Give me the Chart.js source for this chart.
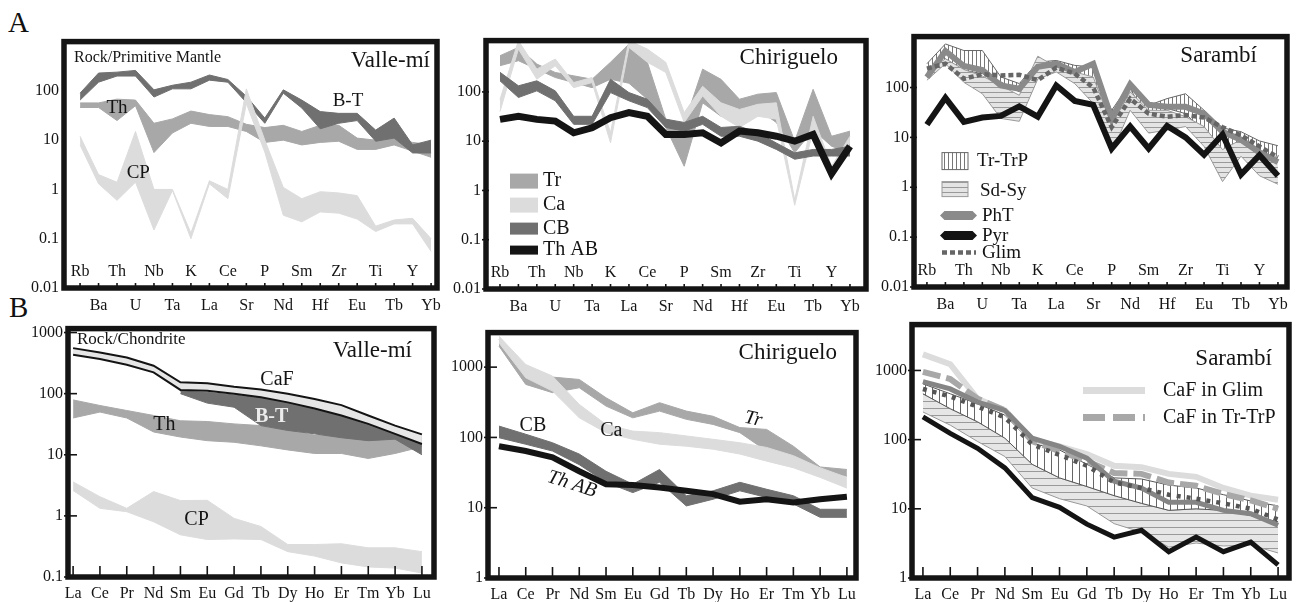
<!DOCTYPE html>
<html>
<head>
<meta charset="utf-8">
<script src="https://cdn.jsdelivr.net/npm/chart.js@4"></script>
<style>
  body { margin: 0; background: #fff; width: 1296px; height: 602px; position: relative; overflow: hidden; font-family: "Liberation Serif", serif; }
  .panel { position: absolute; }
  .letter { position: absolute; font-size: 29px; color: #111; line-height: 1; }
</style>
</head>
<body>
<div class="letter" style="left:8px;top:8px">A</div>
<div class="letter" style="left:9px;top:293px">B</div>
<div class="panel" id="a1"><canvas></canvas></div>
<div class="panel" id="a2"><canvas></canvas></div>
<div class="panel" id="a3"><canvas></canvas></div>
<div class="panel" id="b1"><canvas></canvas></div>
<div class="panel" id="b2"><canvas></canvas></div>
<div class="panel" id="b3"><canvas></canvas></div>
<script>
// categories and tick labels
const SPIDER = ["Rb","Ba","Th","U","Nb","Ta","K","La","Ce","Sr","P","Nd","Sm","Hf","Zr","Eu","Ti","Tb","Y","Yb"];
const REE = ["La","Ce","Pr","Nd","Sm","Eu","Gd","Tb","Dy","Ho","Er","Tm","Yb","Lu"];
const SPIDER_TICKS = [0.01, 0.1, 1, 10, 100];
const VM_REE_TICKS = [0.1, 1, 10, 100, 1000];
const REE_TICKS = [1, 10, 100, 1000];

// A - Valle-mi (rock / primitive mantle)
const vmBtHi = [90, 230, 240, 260, 105, 130, 150, 210, 170, 78, 28, 105, 65, 38, 35, 35, 16, 28, 8, 10];
const vmBtLo = [65, 150, 200, 200, 75, 110, 110, 165, 150, 58, 22, 90, 45, 17, 22, 25, 9.5, 11, 5.5, 5.5];
const vmThHi = [57, 57, 68, 65, 22, 27, 39, 33, 30, 21, 18, 20, 15, 20, 20, 11, 10, 11, 9, 8];
const vmThLo = [46, 46, 25, 50, 5.6, 14, 22, 19, 19, 15, 9, 10, 8, 9, 9.5, 6.5, 6.5, 8, 6, 4.5];
const vmCpHi = [12, 2, 1.4, 15, 1.0, 1.0, 0.13, 1.5, 1.0, 110, 10, 1.1, 0.65, 0.9, 0.85, 0.75, 0.18, 0.24, 0.26, 0.1];
const vmCpLo = [8, 1.3, 0.6, 1.4, 0.15, 0.95, 0.1, 1.3, 0.65, 55, 5.7, 0.3, 0.22, 0.35, 0.33, 0.25, 0.14, 0.2, 0.2, 0.055];

// A - Chiriguelo
const chTrHi = [543, 800, 367, 248, 212, 181, 400, 935, 400, 28, 22, 290, 180, 71, 90, 97, 10, 113, 12.6, 16];
const chTrLo = [340, 430, 290, 196, 155, 122, 181, 150, 71, 19, 3.1, 60, 32, 41, 44, 24, 5.8, 17, 7.9, 5.8];
const chCaHi = [70, 1100, 290, 465, 155, 196, 15, 1100, 740, 400, 38, 130, 60, 44, 56, 60, 0.65, 32, 3.1, 12.6];
const chCaLo = [40, 740, 181, 340, 122, 155, 9.3, 800, 400, 248, 24, 83, 32, 19, 32, 28, 0.5, 17, 2.7, 9.2];
const chCbHi = [250, 133, 168, 105, 32, 32, 181, 97, 71, 28, 24, 32, 19, 20, 15, 9.2, 5.8, 6.8, 6.8, 7.9];
const chCbLo = [168, 77, 105, 66, 22, 22, 97, 66, 48, 19, 16, 22, 12.6, 12.6, 10, 6.8, 4.3, 5, 5, 5];
const chThAb = [27.7, 32, 27.7, 25.6, 14.8, 18.7, 30, 38, 32, 13.7, 13.7, 14.8, 9.2, 16, 14.8, 12.6, 10, 13.7, 2.2, 7.9];

// A - Sarambi
const saTrpHi = [300, 748, 552, 552, 163, 120, 323, 349, 278, 257, 35, 120, 44, 60, 75, 35, 15.5, 13, 8.5, 6.8];
const saTrpLo = [163, 377, 221, 190, 130, 82, 176, 238, 151, 130, 12, 95, 22, 38, 30, 13, 3.1, 6.6, 3.6, 3.1];
const saSdHi = [205, 377, 230, 170, 109, 70, 425, 257, 205, 163, 17.9, 82, 35, 35, 26, 16.5, 5.7, 9, 4.2, 4.2];
const saSdLo = [140, 300, 127, 75, 24, 21, 148, 205, 120, 48, 4.9, 35, 12.2, 14, 16.5, 6.6, 1.3, 4.2, 1.7, 1.15];
const saPht = [160, 540, 270, 225, 110, 95, 260, 300, 205, 300, 24, 115, 45, 41, 41, 30, 13, 9, 5, 3.2];
const saPyr = [18, 62, 20.5, 25, 27, 42, 26, 110, 54, 45, 6, 16.6, 6, 17, 10, 4.5, 11.4, 1.8, 4.4, 1.7];
const saGlim = [240, 300, 150, 185, 175, 180, 140, 250, 190, 100, 16, 60, 30, 26, 28, 25, 16, 11, 6.6, 4];

// B - Valle-mi (rock / chondrite)
const vrCafHi = [556, 472, 391, 286, 153, 148, 130, 117, 100, 82, 65, 44, 30, 21.6];
const vrCafLo = [433, 368, 298, 223, 115, 112, 100, 87, 72, 57, 44, 32, 22, 15];
const vrBtHi = [null, null, null, null, 110, 105, 95, 85, 70, 55, 43, 31, 22, 15];
const vrBtLo = [null, null, null, null, 100, 70, 60, 30, 25, 22, 19, 17, 18, 10];
const vrThHi = [79, 64, 53, 44, 36, 35, 32, 30, 25, 21, 21, 19.5, 23, 19.5];
const vrThLo = [40, 50, 40, 23.6, 19.5, 17, 16, 14, 12, 10.5, 10.5, 8.7, 10.5, 13.5];
const vrCpHi = [3.6, 2.06, 1.33, 2.5, 1.78, 1.8, 0.91, 0.67, 0.34, 0.34, 0.35, 0.30, 0.30, 0.26];
const vrCpLo = [2.6, 1.33, 1.17, 0.8, 0.49, 0.41, 0.42, 0.41, 0.26, 0.22, 0.17, 0.146, 0.14, 0.116];

// B - Chiriguelo
const crTrHi = [2470, 787, 721, 668, 367, 224, 312, 237, 200, 138, 130, 75, 38, 35];
const crTrLo = [1990, 568, 433, 509, 279, 190, 237, 181, 153, 117, 64, 41, 33, 28];
const crCaHi = [2760, 1090, 745, 295, 153, 123, 117, 105, 94, 84, 72, 55, 37, 27];
const crCaLo = [2210, 705, 456, 190, 117, 94, 80, 75, 68, 58, 46, 37, 27, 19];
const crCbHi = [145, 111, 84, 58, 33, 21.6, 35, 14.8, 17.4, 23, 18.3, 14.8, 9.5, 9.5];
const crCbLo = [99, 80, 64, 41, 23, 16.4, 23, 10.6, 13.2, 17.4, 14, 11.3, 7.3, 7.3];
const crThAb = [75, 64, 52, 33, 21.6, 21, 19.4, 17.4, 15.6, 12.2, 13.2, 11.9, 13.2, 14.3];

// B - Sarambi
const srTrpHi = [640, 460, 330, 226, 89, 71, 44, 28, 27, 22, 20, 16, 13, 11];
const srTrpLo = [460, 280, 181, 105, 44, 28, 21, 15.5, 12, 9.5, 10, 9.5, 8, 6.5];
const srSdHi = [460, 280, 181, 105, 44, 28, 21, 15.5, 12, 9.5, 10, 9.5, 8, 6.5];
const srSdLo = [251, 162, 94, 57, 20, 14, 11, 6.1, 4.6, 2.8, 3.2, 2.9, 3.0, 2.3];
const srPht = [690, 541, 349, 265, 105, 80, 54, 25, 20, 12.4, 12.4, 9.5, 8.5, 5.8];
const srPyr = [213, 123, 75, 39, 14.5, 10.5, 6.0, 3.9, 4.9, 2.4, 3.9, 2.4, 3.3, 1.55];
const srGlim = [540, 420, 300, 210, 85, 60, 42, 24, 20, 16, 14, 12, 10, 7];
const srCafGlim = [1710, 1230, 390, 265, 100, 80, 62, 42, 40, 32, 29, 20, 15.5, 13.5];
const srCafTrp = [956, 751, 390, 265, 95, 68, 49, 33, 32, 24, 21.5, 16.4, 13.2, 10];

const FONT = '"Liberation Serif", "Times New Roman", serif';
const INK = "#141414";
const DARK = "#707070", MID = "#a8a8a8", LIGHT = "#dcdcdc";
const Y_W = 50, PAD_T = 14, PAD_R = 20, X_H = 30;

function hatch(gap, lineColor, bg, vertical) {
  const c = document.createElement("canvas");
  c.width = gap; c.height = gap;
  const g = c.getContext("2d");
  g.fillStyle = bg;
  g.fillRect(0, 0, gap, gap);
  g.fillStyle = lineColor;
  if (vertical) g.fillRect(0, 0, 1, gap);
  else g.fillRect(0, 0, gap, 1);
  return g.createPattern(c, "repeat");
}

const pts = values => values.map((v, i) => ({ x: i, y: v }));

// upper edge fills down to the lower edge (next dataset)
function band(hi, lo, fill, edge, edgeW) {
  return [
    { data: pts(hi), backgroundColor: fill, borderColor: edge || fill, borderWidth: edgeW ?? 1, fill: "+1" },
    { data: pts(lo), borderColor: edge || fill, borderWidth: edgeW ?? 1, fill: false },
  ];
}

function line(values, color, width, extra) {
  return Object.assign({ data: pts(values), borderColor: color, borderWidth: width, fill: false }, extra || {});
}

function hexLine(ctx, x0, x1, y, h, color) {
  ctx.fillStyle = color;
  ctx.beginPath();
  ctx.moveTo(x0, y);
  ctx.lineTo(x0 + h / 2, y - h / 2);
  ctx.lineTo(x1 - h / 2, y - h / 2);
  ctx.lineTo(x1, y);
  ctx.lineTo(x1 - h / 2, y + h / 2);
  ctx.lineTo(x0 + h / 2, y + h / 2);
  ctx.closePath();
  ctx.fill();
}

const vHatchA = hatch(4, "#777", "#fff", true);
const hHatchA = hatch(5, "#999", "#e4e4e4", false);
const vHatchB = hatch(7, "#666", "#fff", true);
const hHatchB = hatch(7, "#999", "#e6e6e6", false);

const PANELS = [
  {
    id: "a1", frame: { l: 64, t: 41, r: 437, b: 288 }, cats: SPIDER, xr: [-0.87, 19.32],
    yr: [0.01, 1000], yt: SPIDER_TICKS, split: true, tickLen: 5, yTickLen: 0,
    datasets: [
      ...band(vmThHi, vmThLo, MID),
      ...band(vmBtHi, vmBtLo, DARK),
      ...band(vmCpHi, vmCpLo, LIGHT),
    ],
    notes: [
      { text: "Rock/Primitive Mantle", tl: [10, 16], size: 16 },
      { text: "Valle-mí", tr: [-7, 19], size: 23 },
      { text: "Th", at: [2.0, 45], size: 19 },
      { text: "B-T", at: [14.5, 63], size: 19 },
      { text: "CP", at: [3.15, 2.2], size: 19 },
    ],
  },
  {
    id: "a2", frame: { l: 486, t: 40, r: 866, b: 289 }, cats: SPIDER, xr: [-0.76, 19.87],
    yr: [0.01, 1100], yt: SPIDER_TICKS, split: true, tickLen: 5, yTickLen: 3,
    datasets: [
      ...band(chTrHi, chTrLo, MID),
      ...band(chCaHi, chCaLo, LIGHT),
      ...band(chCbHi, chCbLo, DARK),
      line(chThAb, INK, 7),
    ],
    notes: [{ text: "Chiriguelo", tr: [-28, 17], size: 23 }],
    legend(ctx, ca) {
      const items = [["Tr", MID, 133, 15], ["Ca", LIGHT, 157, 15], ["CB", DARK, 182, 12], ["Th AB", INK, 205, 9]];
      ctx.font = `20px ${FONT}`;
      ctx.textAlign = "left";
      ctx.textBaseline = "middle";
      items.forEach(([label, color, dy, h]) => {
        ctx.fillStyle = color;
        ctx.fillRect(ca.left + 24, ca.top + dy, 28, h);
        ctx.fillStyle = INK;
        ctx.fillText(label, ca.left + 57, ca.top + dy + h / 2);
      });
    },
  },
  {
    id: "a3", frame: { l: 914, t: 36, r: 1287, b: 287 }, cats: SPIDER, xr: [-0.70, 19.49],
    yr: [0.01, 1050], yt: SPIDER_TICKS, split: true, tickLen: 5, yTickLen: 3,
    datasets: [
      ...band(saTrpHi, saTrpLo, vHatchA, "#666", 1),
      ...band(saSdHi, saSdLo, hHatchA, "#999", 1),
      line(saPht, "#8a8a8a", 6),
      line(saGlim, "#666", 4.5, { borderDash: [5, 3] }),
      line(saPyr, INK, 6),
    ],
    notes: [{ text: "Sarambí", tr: [-30, 19], size: 23 }],
    legend(ctx, ca) {
      const x0 = ca.left + 28, y0 = ca.top;
      ctx.fillStyle = vHatchA;
      ctx.fillRect(x0, y0 + 116, 26, 17);
      ctx.strokeStyle = "#666"; ctx.lineWidth = 1;
      ctx.strokeRect(x0, y0 + 116, 26, 17);
      ctx.fillStyle = hHatchA;
      ctx.fillRect(x0, y0 + 145, 26, 15);
      ctx.strokeStyle = "#999";
      ctx.strokeRect(x0, y0 + 145, 26, 15);
      hexLine(ctx, x0 - 2, x0 + 35, y0 + 179, 9, "#8a8a8a");
      hexLine(ctx, x0 - 2, x0 + 35, y0 + 199, 9, INK);
      ctx.strokeStyle = "#666"; ctx.lineWidth = 4.5; ctx.setLineDash([5, 3]);
      ctx.beginPath(); ctx.moveTo(x0, y0 + 216); ctx.lineTo(x0 + 34, y0 + 216); ctx.stroke();
      ctx.setLineDash([]);
      ctx.font = `19px ${FONT}`;
      ctx.fillStyle = INK; ctx.textAlign = "left"; ctx.textBaseline = "middle";
      ctx.fillText("Tr-TrP", x0 + 35, y0 + 124);
      ctx.fillText("Sd-Sy", x0 + 38, y0 + 154);
      ctx.fillText("PhT", x0 + 40, y0 + 179);
      ctx.fillText("Pyr", x0 + 40, y0 + 199);
      ctx.fillText("Glim", x0 + 40, y0 + 216);
    },
  },
  {
    id: "b1", frame: { l: 68, t: 328, r: 434, b: 577 }, cats: REE, xr: [-0.19, 13.45],
    yr: [0.1, 1160], yt: VM_REE_TICKS, split: false, tickLen: 11, yTickLen: 9,
    datasets: [
      ...band(vrCpHi, vrCpLo, LIGHT),
      ...band(vrThHi, vrThLo, MID),
      ...band(vrBtHi, vrBtLo, DARK),
      ...band(vrCafHi, vrCafLo, "#e6e6e6", INK, 2),
    ],
    notes: [
      { text: "Rock/Chondrite", tl: [9, 11], size: 17 },
      { text: "Valle-mí", tr: [-22, 22], size: 23 },
      { text: "CaF", at: [7.6, 166], size: 20 },
      { text: "B-T", at: [7.4, 41], size: 20, color: "#ececec", bold: true },
      { text: "Th", at: [3.4, 31], size: 20 },
      { text: "CP", at: [4.6, 0.88], size: 20 },
    ],
  },
  {
    id: "b2", frame: { l: 488, t: 332, r: 856, b: 578 }, cats: REE, xr: [-0.41, 13.34],
    yr: [1, 3100], yt: REE_TICKS, split: false, tickLen: 11, yTickLen: 9,
    datasets: [
      ...band(crTrHi, crTrLo, MID),
      ...band(crCaHi, crCaLo, LIGHT),
      ...band(crCbHi, crCbLo, DARK),
      line(crThAb, INK, 6),
    ],
    notes: [
      { text: "Chiriguelo", tr: [-19, 20], size: 23 },
      { text: "CB", at: [1.27, 145], size: 20 },
      { text: "Ca", at: [4.2, 123], size: 20 },
      { text: "Tr", at: [9.5, 182], size: 20, italic: true, rot: 12 },
      { text: "Th AB", at: [2.73, 21.6], size: 20, italic: true, rot: 18 },
    ],
  },
  {
    id: "b3", frame: { l: 912, t: 324, r: 1289, b: 578 }, cats: REE, xr: [-0.40, 13.40],
    yr: [1, 4600], yt: REE_TICKS, split: false, tickLen: 11, yTickLen: 9,
    datasets: [
      ...band(srSdHi, srSdLo, hHatchB, "#999", 1),
      ...band(srTrpHi, srTrpLo, vHatchB, "#555", 1),
      line(srCafGlim, LIGHT, 6),
      line(srCafTrp, MID, 6, { borderDash: [18, 6] }),
      line(srPht, "#858585", 5),
      line(srGlim, "#555", 4.5, { borderDash: [4, 6] }),
      line(srPyr, INK, 5),
    ],
    notes: [{ text: "Sarambí", tr: [-17, 34], size: 23 }],
    legend(ctx, ca) {
      const x0 = ca.right - 206, x1 = ca.right - 144;
      ctx.lineWidth = 7;
      ctx.strokeStyle = LIGHT;
      ctx.beginPath(); ctx.moveTo(x0, ca.top + 66); ctx.lineTo(x1, ca.top + 66); ctx.stroke();
      ctx.strokeStyle = MID; ctx.setLineDash([22, 8]);
      ctx.beginPath(); ctx.moveTo(x0, ca.top + 93); ctx.lineTo(x1, ca.top + 93); ctx.stroke();
      ctx.setLineDash([]);
      ctx.font = `20px ${FONT}`;
      ctx.fillStyle = INK; ctx.textAlign = "left"; ctx.textBaseline = "middle";
      ctx.fillText("CaF in Glim", ca.right - 126, ca.top + 66);
      ctx.fillText("CaF in Tr-TrP", ca.right - 126, ca.top + 93);
    },
  },
];

function makeDecor(p) {
  return {
    id: "decor",
    afterDraw(chart) {
      const { ctx, chartArea: ca, scales: { x, y } } = chart;
      ctx.save();
      ctx.strokeStyle = INK;
      ctx.fillStyle = INK;
      ctx.lineWidth = 1.6;
      p.cats.forEach((_, i) => {
        const px = x.getPixelForValue(i);
        ctx.beginPath(); ctx.moveTo(px, ca.bottom); ctx.lineTo(px, ca.bottom - p.tickLen); ctx.stroke();
      });
      if (p.yTickLen) {
        p.yt.forEach(v => {
          const py = y.getPixelForValue(v);
          ctx.beginPath(); ctx.moveTo(ca.left - 4, py); ctx.lineTo(ca.left + p.yTickLen, py); ctx.stroke();
        });
      }
      ctx.textBaseline = "middle";
      if (p.split) {
        ctx.font = `16px ${FONT}`;
        ctx.textAlign = "center";
        p.cats.forEach((c, i) => {
          if (i % 2 === 0) ctx.fillText(c, x.getPixelForValue(i), ca.bottom - 16);
        });
      }
      p.notes.forEach(n => {
        ctx.font = `${n.italic ? "italic " : ""}${n.bold ? "bold " : ""}${n.size}px ${FONT}`;
        ctx.fillStyle = n.color || INK;
        let px, py;
        if (n.at) {
          px = x.getPixelForValue(n.at[0]); py = y.getPixelForValue(n.at[1]);
          ctx.textAlign = "center";
        } else if (n.tl) {
          px = ca.left + n.tl[0]; py = ca.top + n.tl[1];
          ctx.textAlign = "left";
        } else {
          px = ca.right + n.tr[0]; py = ca.top + n.tr[1];
          ctx.textAlign = "right";
        }
        ctx.save();
        ctx.translate(px, py);
        if (n.rot) ctx.rotate(n.rot * Math.PI / 180);
        ctx.fillText(n.text, 0, 0);
        ctx.restore();
      });
      if (p.legend) p.legend(ctx, ca);
      ctx.strokeStyle = INK;
      ctx.lineWidth = 5.5;
      ctx.setLineDash([]);
      ctx.strokeRect(ca.left, ca.top, ca.width, ca.height);
      ctx.restore();
    },
  };
}

PANELS.forEach(p => {
  const wrap = document.getElementById(p.id);
  const canvas = wrap.querySelector("canvas");
  const w = p.frame.r - p.frame.l + Y_W + PAD_R;
  const h = p.frame.b - p.frame.t + PAD_T + X_H;
  wrap.style.left = (p.frame.l - Y_W) + "px";
  wrap.style.top = (p.frame.t - PAD_T) + "px";
  canvas.width = w;
  canvas.height = h;

  p.datasets.forEach((d, i) => {
    d.order = -i;
    d.pointRadius = 0;
    d.tension = 0;
    d.borderJoinStyle = "miter";
  });

  new Chart(canvas, {
    type: "line",
    data: { datasets: p.datasets },
    options: {
      responsive: false,
      animation: false,
      devicePixelRatio: 1,
      layout: { padding: { top: PAD_T, right: PAD_R, left: 0, bottom: 0 } },
      plugins: { legend: { display: false }, tooltip: { enabled: false } },
      scales: {
        x: {
          type: "linear",
          min: p.xr[0],
          max: p.xr[1],
          afterBuildTicks: s => { s.ticks = p.cats.map((_, i) => ({ value: i })); },
          afterFit: s => { s.height = X_H; },
          grid: { display: false, drawTicks: false },
          border: { display: false },
          ticks: {
            autoSkip: false,
            maxRotation: 0,
            padding: p.split ? 8 : 7,
            color: INK,
            font: { family: FONT, size: 16 },
            callback: v => (p.split && v % 2 === 0 ? "" : p.cats[v]),
          },
        },
        y: {
          type: "logarithmic",
          min: p.yr[0],
          max: p.yr[1],
          afterBuildTicks: s => { s.ticks = p.yt.map(v => ({ value: v })); },
          afterFit: s => { s.width = Y_W; },
          grid: { display: false, drawTicks: false },
          border: { display: false },
          ticks: {
            autoSkip: false,
            padding: 5,
            color: INK,
            font: { family: FONT, size: 16 },
            callback: v => String(v),
          },
        },
      },
    },
    plugins: [makeDecor(p)],
  });
});
</script>
</body>
</html>
